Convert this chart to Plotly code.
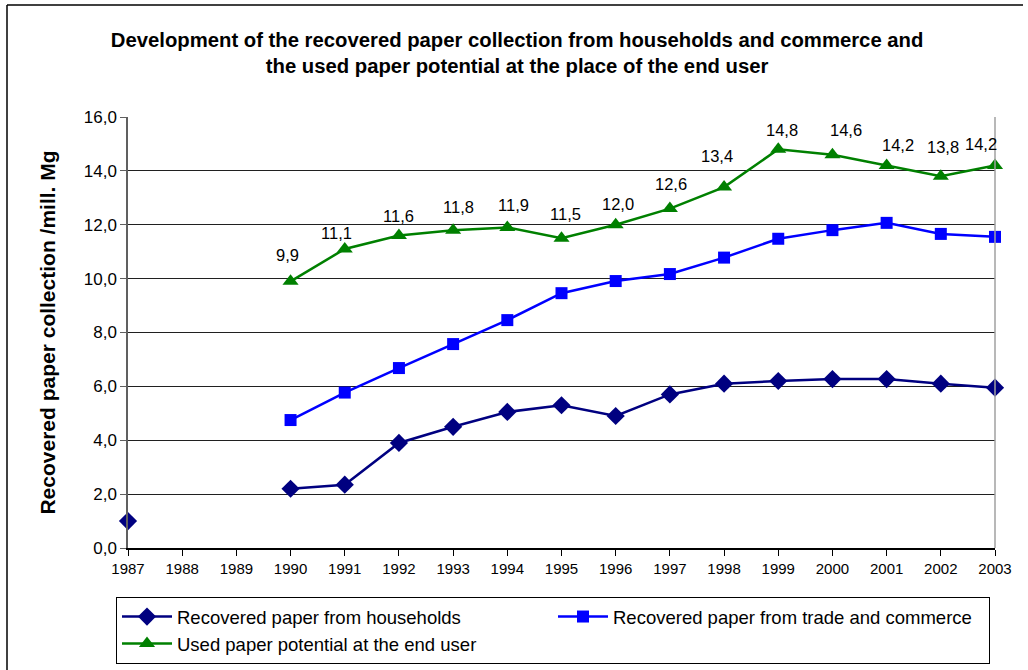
import plotly.graph_objects as go

years = list(range(1987, 2004))

# None = no value reported for that year
households = [1.0, None, None, 2.2, 2.35, 3.9, 4.5, 5.05, 5.3, 4.9, 5.7, 6.1, 6.2, 6.27, 6.27, 6.1, 5.95]
trade = [None, None, None, 4.75, 5.77, 6.68, 7.57, 8.46, 9.46, 9.91, 10.17, 10.78, 11.48, 11.8, 12.07, 11.66, 11.55]
potential = [None, None, None, 9.9, 11.1, 11.6, 11.8, 11.9, 11.5, 12.0, 12.6, 13.4, 14.8, 14.6, 14.2, 13.8, 14.2]

# label offsets (px) for the data labels of the potential series (1990..2003)
label_dx = [-3, -8, 0, 5, 6, 4, 2, 1, -7, 4, 14, 11, 2, -14]
label_dy = [26, 16, 20, 23, 22, 24, 21, 25, 31, 19, 25, 20, 29, 21]

y_ticks = [0, 2, 4, 6, 8, 10, 12, 14, 16]

FONT = "Liberation Sans, Arial, sans-serif"

fig = go.Figure()
fig.add_trace(go.Scatter(
    x=years, y=households, mode="lines+markers",
    name="Recovered paper from households",
    line=dict(color="#000080", width=2.5),
    marker=dict(symbol="diamond", size=14, color="#000080"),
    cliponaxis=False, connectgaps=False,
))
fig.add_trace(go.Scatter(
    x=years, y=trade, mode="lines+markers",
    name="Recovered paper from trade and commerce",
    line=dict(color="#0000FF", width=2.5),
    marker=dict(symbol="square", size=12, color="#0000FF"),
    cliponaxis=False, connectgaps=False,
))
fig.add_trace(go.Scatter(
    x=years, y=potential, mode="lines+markers",
    name="Used paper potential at the end user",
    line=dict(color="#008000", width=2.5),
    marker=dict(symbol="triangle-up", size=14, color="#008000"),
    cliponaxis=False, connectgaps=False,
))

pot_pts = [(x, v) for x, v in zip(years, potential) if v is not None]
for (xv, yv), dx, dy in zip(pot_pts, label_dx, label_dy):
    fig.add_annotation(
        x=xv, y=yv, xref="x", yref="y",
        text=f"{yv:.1f}".replace(".", ","),
        showarrow=False, xshift=dx, yshift=dy,
        font=dict(family=FONT, size=16.5, color="black"),
    )

W, H = 1028, 670
L, R, T, B = 128, 33, 117, 122
pw, ph = W - L - R, H - T - B

def px(xp):
    return (xp - L) / pw

def py(yp):
    return (H - B - yp) / ph

# outer chart frame (top and left edges visible)
fig.add_shape(type="line", xref="paper", yref="paper",
              x0=px(7), x1=px(1023), y0=py(5), y1=py(5),
              line=dict(color="black", width=1.5))
fig.add_shape(type="line", xref="paper", yref="paper",
              x0=px(7), x1=px(7), y0=py(5), y1=py(672),
              line=dict(color="black", width=1.5))
# right border of plot area
fig.add_shape(type="line", xref="paper", yref="paper",
              x0=1, x1=1, y0=0, y1=1,
              line=dict(color="#a0a0a0", width=1.5))

fig.update_layout(
    width=W, height=H,
    margin=dict(l=L, r=R, t=T, b=B, autoexpand=False),
    paper_bgcolor="white", plot_bgcolor="white",
    separators=",.",
    font=dict(family=FONT, color="black"),
    title=dict(
        text="<b>Development of the recovered paper collection from households and commerce and<br>the used paper potential at the place of the end user</b>",
        x=0.503, xanchor="center", y=1 - 47 / H, yanchor="middle",
        yref="container",
        font=dict(family=FONT, size=20.3, color="black"),
    ),
    xaxis=dict(
        range=[1987, 2003], tickmode="array", tickvals=years,
        ticktext=[str(y) for y in years],
        showgrid=False, zeroline=False,
        showline=True, linecolor="black", linewidth=1.5,
        ticks="outside", ticklen=6, tickcolor="black",
        tickfont=dict(family=FONT, size=15, color="black"),
    ),
    yaxis=dict(
        range=[0, 16], tickmode="array", tickvals=y_ticks,
        tickformat=".1f",
        showgrid=True, gridcolor="#202020", gridwidth=1,
        zeroline=False,
        showline=True, linecolor="#606060", linewidth=1.5,
        ticks="outside", ticklen=6, tickcolor="#606060",
        tickfont=dict(family=FONT, size=17, color="black"),
        title=dict(text="<b>Recovered paper collection /mill. Mg</b>",
                   font=dict(family=FONT, size=21, color="black"),
                   standoff=22),
    ),
    legend=dict(
        orientation="h", x=px(116), xanchor="left", y=py(597), yanchor="top",
        bordercolor="black", borderwidth=1, bgcolor="white",
        entrywidth=371, entrywidthmode="pixels", itemwidth=50,
        font=dict(family=FONT, size=18.5, color="black"),
    ),
    showlegend=True,
)

fig.write_html(
    "out.html",
    config={"displayModeBar": False},
    post_script="document.body.style.margin='0';document.body.style.overflow='hidden';",
)
